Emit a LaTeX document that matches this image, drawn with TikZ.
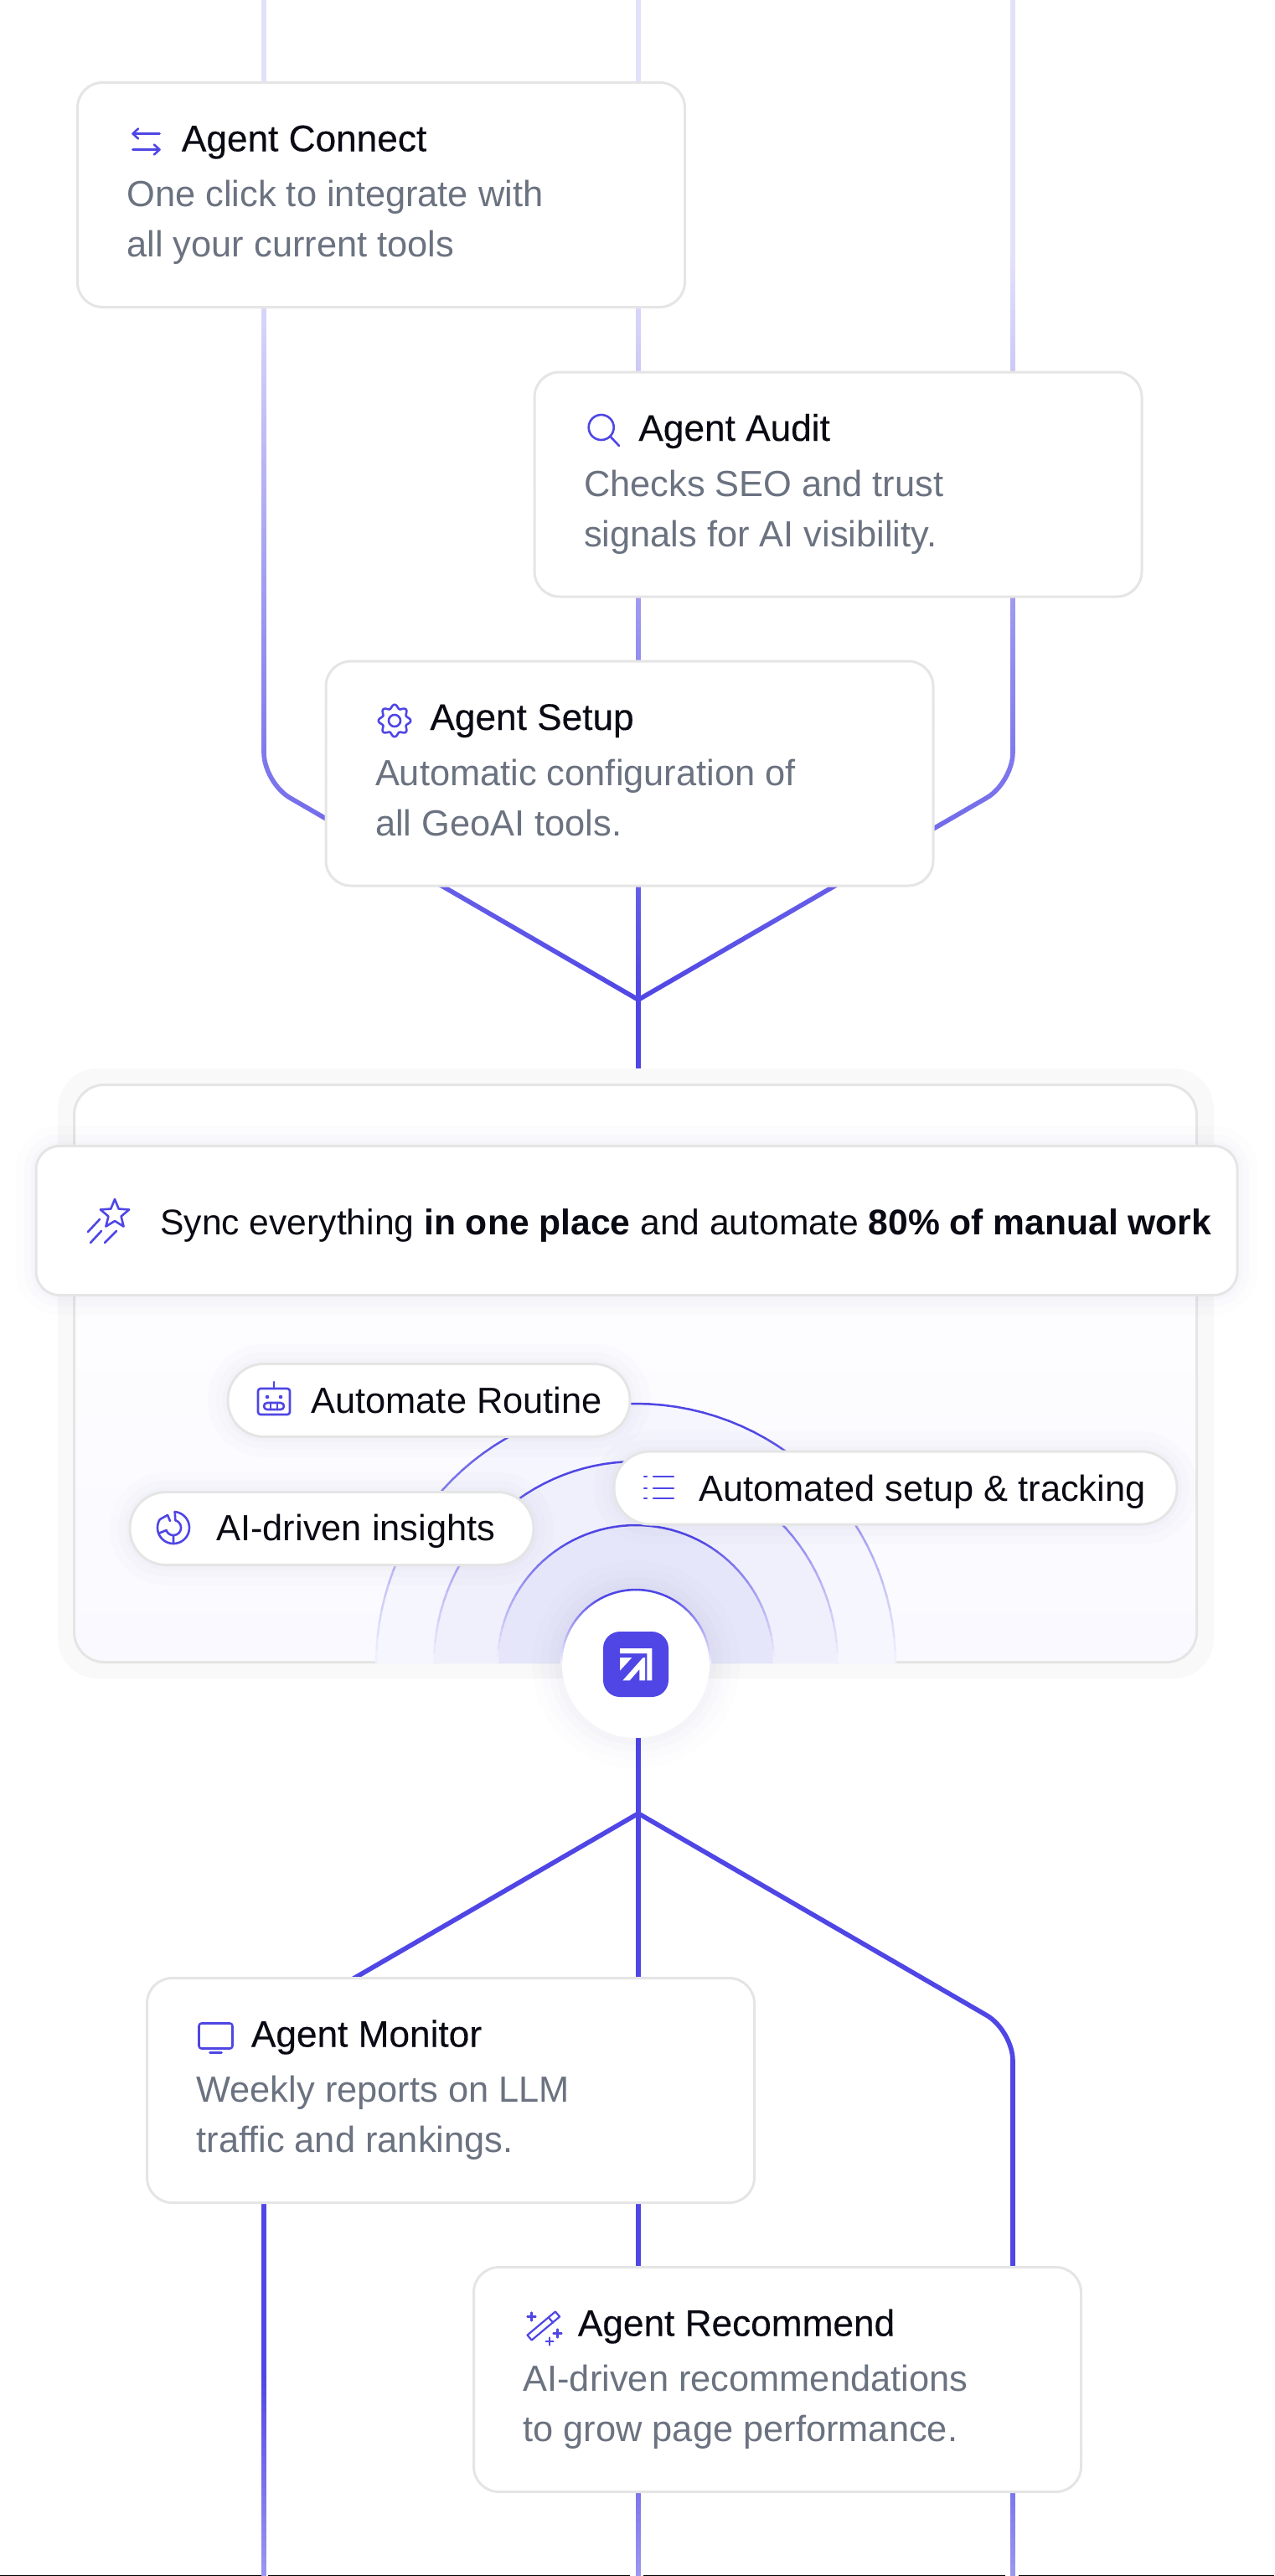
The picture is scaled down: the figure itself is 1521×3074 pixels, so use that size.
\documentclass[tikz,border=0pt]{standalone}
\usepackage{fontspec}
\setmainfont{Liberation Sans}
\newfontfamily\titlefont[FakeBold=0.25]{Liberation Sans}
\usetikzlibrary{positioning}

\definecolor{wire}{HTML}{4F46E5}
\definecolor{edgegray}{HTML}{E5E5E5}
\definecolor{inktext}{HTML}{0A0A14}
\definecolor{desctext}{HTML}{6B7280}
\definecolor{panelback}{HTML}{F9F9F9}
\definecolor{paneltint}{HTML}{FAF9FF}
\definecolor{ringa}{HTML}{F6F6FE}
\definecolor{ringb}{HTML}{F0F0FC}
\definecolor{ringc}{HTML}{E6E6FA}
\definecolor{glowtint}{HTML}{40409A}

\tikzset{
    iconline/.style={draw=wire, line width=1.3pt, line cap=round, line join=round},
    pics/swapicon/.style={code={
        \draw[iconline] (16,-10) -- (-16,-10) (-9.5,-16) -- (-16,-10) -- (-9.5,-4);
        \draw[iconline] (-16,9) -- (16,9) (9.5,3) -- (16,9) -- (9.5,15);
    }},
    pics/searchicon/.style={code={
        \draw[iconline] (-2.3,-5) circle (15);
        \draw[iconline] (8.3,5.6) -- (19,17);
    }},
    pics/gearicon/.style={code={
        \draw[iconline] plot[domain=0:360, samples=97, smooth] ({(17+2.2*cos(8*\x))*cos(\x)},{(17+2.2*cos(8*\x))*sin(\x)}) -- cycle;
        \draw[iconline] (0,0) circle (7);
    }},
    pics/screenicon/.style={code={
        \draw[iconline, rounded corners=1.5pt] (-20,-17) rectangle (20,13);
        \draw[iconline] (-7,18) -- (7,18);
    }},
    pics/wandicon/.style={code={
        \draw[iconline, line width=1.1pt] (-12.8,16) -- (20.6,-12) -- (15.4,-18) -- (-18,10) -- cycle;
        \draw[iconline, line width=1.1pt] (12.6,-5) -- (7.4,-11);
        \draw[iconline, line width=1.1pt] (-13,-17) -- (-13,-7) (-18,-12) -- (-8,-12);
        \draw[iconline, line width=1.1pt] (18,3) -- (18,13) (13,8) -- (23,8);
        \draw[iconline, line width=1.1pt] (8.6,13) -- (8.6,22) (4.1,17.5) -- (13.1,17.5);
    }},
    pics/staricon/.style={code={
        \draw[iconline] plot[domain=0:10, samples=11] ({7+(13+5*cos(180*\x))*sin(36*\x)},{-9-(13+5*cos(180*\x))*cos(36*\x)}) -- cycle;
        \draw[iconline] (-11,-3) -- (-25,12) (-9,11) -- (-22,25) (9,11) -- (-5,25);
    }},
    pics/roboticon/.style={code={
        \draw[iconline, rounded corners=1.5pt] (-19,-11) rectangle (19,20);
        \draw[iconline] (0,-19) -- (0,-11);
        \fill[wire] (-8,-1) circle (2.3) (8,-1) circle (2.3);
        \draw[iconline, rounded corners=2pt] (-12,6) rectangle (12,14);
        \draw[iconline] (-4,6) -- (-4,14) (4,6) -- (4,14);
    }},
    pics/pieicon/.style={code={
        \draw[iconline] plot[domain=5:300, samples=40] ({19*sin(\x)},{-19*cos(\x)});
        \draw[iconline] (1.7,-19) -- (2.3,-8.7) plot[domain=15:250, samples=30] ({9*sin(\x)},{-9*cos(\x)});
        \draw[iconline] (0,9) -- (0,19) (-8.5,3) -- (-18,7);
        \draw[iconline] (-16,-10) -- (-7,-15) -- (-4,-8);
    }},
    pics/listicon/.style={code={
        \foreach \rowy in {-13,1,13} {
            \draw[iconline] (-17,\rowy) -- (-14,\rowy);
            \draw[iconline] (-6,\rowy) -- (18,\rowy);
        }
    }}
}

\begin{document}
\begin{tikzpicture}[
    x=0.5pt, y=-0.5pt,
    wireline/.style={draw=wire, line width=2.8pt, rounded corners=18pt},
    softglow/.style={
        preaction={draw=glowtint, draw opacity=.012, line width=24pt},
        preaction={draw=glowtint, draw opacity=.014, line width=14pt},
        preaction={draw=glowtint, draw opacity=.016, line width=6pt}},
    card/.style={rectangle, draw=edgegray, fill=white, line width=1.5pt, rounded corners=15pt, outer sep=0pt, minimum width=362.5pt, minimum height=134pt},
    pill/.style={rectangle, draw=edgegray, fill=white, line width=1.5pt, rounded corners=21.5pt, outer sep=0pt, minimum height=43.5pt, softglow},
    cardtitle/.style={inner sep=0pt, text=inktext, font=\fontsize{22.1}{30}\selectfont\titlefont},
    carddesc/.style={inner sep=0pt, align=left, text=desctext, font=\fontsize{21.7}{30}\selectfont},
    pilltext/.style={inner sep=0pt, anchor=base west, text=inktext, font=\fontsize{21.7}{30}\selectfont}
]
\useasboundingbox (0,0) rectangle (1521,3074);

\coordinate (topleft) at (315,0);
\coordinate (topmid) at (762,0);
\coordinate (topright) at (1209,0);
\coordinate (bendleft) at (315,934);
\coordinate (bendright) at (1209,934);
\coordinate (merge) at (762,1193);
\coordinate (paneltop) at (762,1276);
\coordinate (hubfoot) at (762,2074);
\coordinate (split) at (762,2164);
\coordinate (lowleft) at (315,2423);
\coordinate (lowright) at (1209,2423);
\coordinate (endleft) at (315,3074);
\coordinate (endmid) at (762,3074);
\coordinate (endright) at (1209,3074);

\draw[wireline] (topleft) -- (bendleft) -- (merge);
\draw[wireline] (topmid) -- (merge);
\draw[wireline] (topright) -- (bendright) -- (merge);
\foreach \bandy in {0,10,...,1190} {
    \pgfmathsetmacro\veil{\bandy<300 ? .84 : .84*(1197-\bandy)/897}
    \fill[white, fill opacity=\veil] (0,\bandy) rectangle (1521,{\bandy+10});
}
\draw[wireline] (merge) -- (paneltop);

\draw[wireline] (hubfoot) -- (split);
\draw[wireline] (split) -- (lowleft) -- (endleft);
\draw[wireline] (split) -- (endmid);
\draw[wireline] (split) -- (lowright) -- (endright);
\foreach \bandy in {2830,2840,...,3070} {
    \pgfmathsetmacro\veil{.45*(\bandy-2830)/244}
    \fill[white, fill opacity=\veil] (0,\bandy) rectangle (1521,{\bandy+10});
}

\draw[black, line width=0.5pt] (0,3073.5) -- (312,3073.5) (320,3073.5) -- (751.5,3073.5) (768,3073.5) -- (1200,3073.5) (1216,3073.5) -- (1521,3073.5);

\node[card] (connect) at (455,232.5) {};
\node[cardtitle, below right=41pt and 62pt of connect.north west, anchor=base west] (connecttitle) {Agent Connect};
\node[carddesc, below right=104pt and 29.3pt of connect.north west, anchor=base west] (connectdesc) {One click to integrate with\\all your current tools};
\pic[shift={(82,71)}] at (connect.north west) {swapicon};

\node[card] (audit) at (1000.5,578) {};
\node[cardtitle, below right=41pt and 62pt of audit.north west, anchor=base west] (audittitle) {Agent Audit};
\node[carddesc, below right=104pt and 29.3pt of audit.north west, anchor=base west] (auditdesc) {Checks SEO and trust\\signals for AI visibility.};
\pic[shift={(82,71)}] at (audit.north west) {searchicon};

\node[card] (setup) at (751.5,923) {};
\node[cardtitle, below right=41pt and 62pt of setup.north west, anchor=base west] (setuptitle) {Agent Setup};
\node[carddesc, below right=104pt and 29.3pt of setup.north west, anchor=base west] (setupdesc) {Automatic configuration of\\all GeoAI tools.};
\pic[shift={(82,71)}] at (setup.north west) {gearicon};

\node[rectangle, fill=panelback, rounded corners=24pt, minimum width=690pt, minimum height=364pt] (panelouter) at (759,1639) {};
\node[rectangle, draw=edgegray, top color=white, bottom color=paneltint, line width=1.5pt, rounded corners=18pt, minimum width=670pt, minimum height=344.5pt] (panelinner) at (758.5,1639) {};

\foreach \ringr/\ringtint in {310/ringa, 241/ringb, 165/ringc} {
    \fill[\ringtint] ({759-\ringr},1985) arc[start angle=180, end angle=360, radius=\ringr] -- cycle;
}
\begin{scope}[shift={(759,1985)}]
\foreach \ringr in {310,241,165} {
    \foreach \a in {0,3,...,87} {
        \pgfmathtruncatemacro\ink{min(100,8+1.5*\a)}
        \draw[draw=wire!\ink!white, line width=1.25pt, line cap=round] (-\a:\ringr) -- ({-\a-3}:\ringr);
        \draw[draw=wire!\ink!white, line width=1.25pt, line cap=round] ({-180+\a}:\ringr) -- ({-177+\a}:\ringr);
    }
}
\end{scope}

\node[rectangle, draw=edgegray, fill=white, line width=1.5pt, rounded corners=14pt, outer sep=0pt, minimum width=717pt, minimum height=89pt, softglow] (banner) at (760,1456.5) {};
\node[pilltext, font=\fontsize{21.3}{30}\selectfont] (bannertext) at (191,1473) {Sync everything \textbf{in one place} and automate \textbf{80\% of manual work}};
\pic at (130,1458) {staricon};

\node[pill, minimum width=240pt] (routine) at (512,1671) {};
\node[pilltext] (routinetext) at (371,1686) {Automate Routine};
\pic at (327,1668) {roboticon};

\node[pill, minimum width=241pt] (insights) at (396,1824) {};
\node[pilltext] (insightstext) at (258,1838) {AI-driven insights};
\pic at (207,1823) {pieicon};

\node[pill, minimum width=336pt] (tracking) at (1069,1775.5) {};
\node[pilltext] (trackingtext) at (834,1791) {Automated setup \& tracking};
\pic at (786,1775) {listicon};

\node[circle, fill=white, minimum size=88pt, inner sep=0pt, preaction={draw=glowtint, draw opacity=.012, line width=36pt}, preaction={draw=glowtint, draw opacity=.012, line width=26pt}, preaction={draw=glowtint, draw opacity=.014, line width=16pt}, preaction={draw=glowtint, draw opacity=.016, line width=8pt}] (hub) at (759,1986) {};
\foreach \a in {0,3,...,87} {
    \pgfmathtruncatemacro\ink{min(100,8+1.5*\a)}
    \draw[draw=wire!\ink!white, line width=1.25pt, line cap=round] ([shift={(-\a:89)}]hub.center) -- ([shift={({-\a-3}:89)}]hub.center);
    \draw[draw=wire!\ink!white, line width=1.25pt, line cap=round] ([shift={({-180+\a}:89)}]hub.center) -- ([shift={({-177+\a}:89)}]hub.center);
}
\node[rectangle, fill=wire, rounded corners=10pt, minimum size=39pt, inner sep=0pt] (logo) at (759,1986) {};
\begin{scope}[shift={(715,1942)}, scale=1/3]
\fill[white] (75,75) -- (190,75) -- (190,190) -- (172,190) -- (172,93) -- (75,93) -- cycle;
\fill[white] (75,108) -- (118,108) -- (75,155) -- cycle;
\fill[white] (158,108) -- (165,108) -- (165,190) -- (145,190) -- (145,150) -- (110,190) -- (85,190) -- cycle;
\end{scope}

\node[card] (monitor) at (538,2494.5) {};
\node[cardtitle, below right=41pt and 62pt of monitor.north west, anchor=base west] (monitortitle) {Agent Monitor};
\node[carddesc, below right=104pt and 29.3pt of monitor.north west, anchor=base west] (monitordesc) {Weekly reports on LLM\\traffic and rankings.};
\pic[shift={(82,71)}] at (monitor.north west) {screenicon};

\node[card] (recommend) at (928,2839.5) {};
\node[cardtitle, below right=41pt and 62pt of recommend.north west, anchor=base west] (recommendtitle) {Agent Recommend};
\node[carddesc, below right=104pt and 29.3pt of recommend.north west, anchor=base west] (recommenddesc) {AI-driven recommendations\\to grow page performance.};
\pic[shift={(82,71)}] at (recommend.north west) {wandicon};

\end{tikzpicture}
\end{document}
